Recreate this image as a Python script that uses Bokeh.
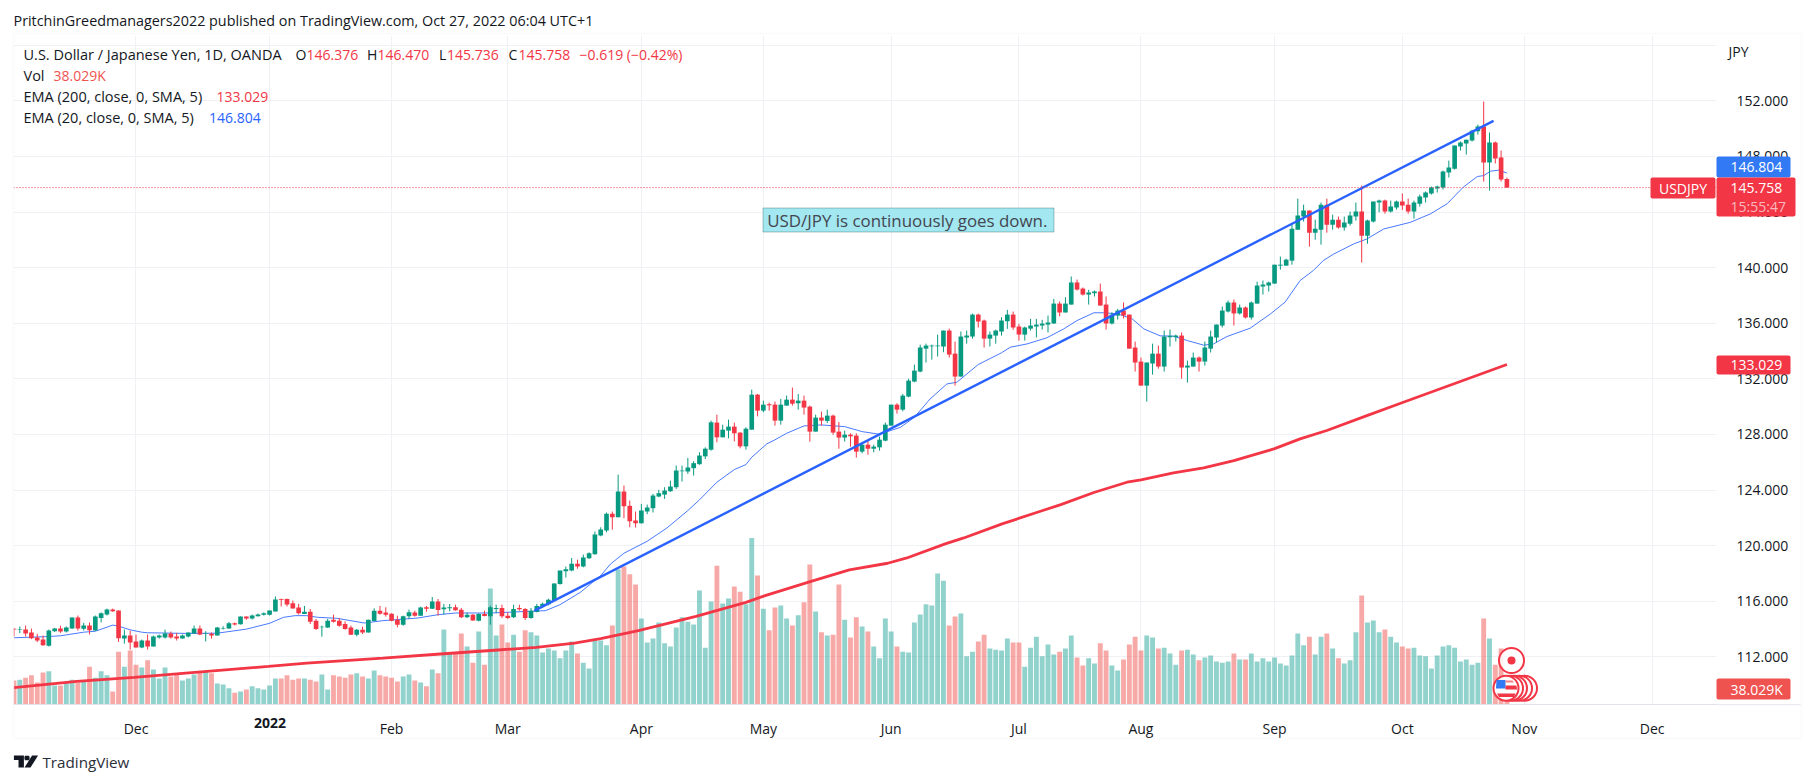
from bokeh.plotting import figure
from bokeh.embed import file_html
from bokeh.resources import INLINE
from bokeh.layouts import GridBox
from bokeh.models import (ColumnDataSource, Range1d, FixedTicker, NumeralTickFormatter, Label,
                          BoxAnnotation, PolyAnnotation, Span)

# ---------- data ----------
opens = [114.01,113.92,113.97,113.75,113.39,113.24,112.79,113.84,114.03,113.82,
114.03,114.83,114.01,114.25,113.89,114.80,115.04,115.40,115.33,113.31,
113.53,113.10,112.67,113.17,112.74,113.39,113.39,113.67,113.46,113.31,
113.46,113.67,114.03,113.65,113.65,113.53,114.01,114.03,114.42,114.35,
114.90,114.75,114.92,115.02,115.02,115.26,116.15,116.15,115.86,115.55,
115.08,115.25,114.60,114.12,114.10,114.67,114.60,114.36,114.10,113.59,
113.95,113.74,114.58,115.32,115.18,115.10,114.67,114.31,114.91,115.18,
114.96,115.56,115.46,115.97,115.42,115.49,115.56,115.39,114.84,115.03,
114.60,115.08,114.91,115.44,115.51,114.96,114.84,115.51,115.44,114.79,
115.22,115.63,115.78,116.06,117.24,118.15,118.20,118.70,118.49,119.09,
119.38,120.72,121.08,122.30,122.04,123.89,122.86,121.80,121.61,122.45,
122.69,123.53,123.67,123.91,124.20,125.35,125.33,125.57,125.86,126.42,
126.90,128.85,127.79,128.27,128.56,128.13,127.14,128.34,130.86,129.71,
130.17,130.14,128.99,130.07,130.50,130.24,130.43,130.00,128.20,129.21,
128.97,129.35,128.20,127.77,127.98,127.91,126.76,127.26,126.97,127.07,
127.55,128.63,130.14,129.78,130.72,131.80,132.52,134.17,134.34,134.34,
134.32,135.47,133.81,132.16,134.97,135.04,136.62,136.19,134.89,135.11,
135.40,136.14,136.62,135.76,135.18,135.61,135.76,135.83,135.90,135.98,
137.41,136.77,137.34,138.93,138.49,138.06,138.16,138.28,137.34,135.98,
136.55,136.91,136.62,134.25,133.24,131.51,133.10,133.81,132.88,134.99,
134.99,135.11,132.81,132.88,133.53,133.24,134.17,134.97,135.83,136.84,
137.49,136.70,137.13,136.41,137.41,138.64,138.71,138.85,140.14,140.14,
140.50,142.73,143.67,144.10,142.51,142.73,144.53,143.09,143.45,142.88,
143.16,143.67,144.03,142.30,143.31,144.68,144.82,144.03,144.32,144.75,
144.53,144.03,144.60,145.04,145.33,145.69,145.76,146.84,147.12,148.71,
148.92,149.14,149.81,150.15,147.56,149.00,147.92,146.376]

highs = [114.06,114.18,114.25,114.03,113.65,113.53,113.96,114.08,114.23,114.18,
114.83,114.97,114.44,114.47,114.97,115.19,115.47,115.47,115.33,113.96,
113.89,113.60,113.24,113.60,113.53,113.60,113.96,113.82,113.72,113.60,
113.75,114.25,114.25,113.84,113.75,114.15,114.20,114.51,114.47,114.90,
114.90,115.04,115.11,115.19,115.33,116.34,116.19,116.19,116.05,115.81,
115.66,115.44,114.72,114.24,114.72,115.03,114.79,114.55,114.24,114.00,
114.17,114.67,115.49,115.66,115.56,115.13,114.96,114.96,115.39,115.32,
115.61,115.66,116.30,116.16,115.80,115.80,115.75,115.51,115.20,115.08,
115.13,115.32,115.68,115.75,115.75,115.20,115.75,115.75,115.51,115.51,
115.80,115.90,116.18,117.29,118.20,118.49,119.11,118.99,119.35,119.52,
121.01,121.32,122.38,122.45,125.11,124.32,123.24,122.45,123.00,122.95,
123.72,124.01,124.20,124.68,125.76,125.76,126.31,126.07,126.72,127.07,
128.99,129.42,128.70,129.06,128.85,128.15,128.51,131.22,130.91,130.43,
130.29,130.36,130.55,130.79,131.37,130.91,130.79,130.07,129.42,129.64,
129.78,129.42,128.89,128.27,128.08,128.08,127.43,127.55,127.26,127.84,
128.85,130.14,130.24,130.91,132.01,133.02,134.46,134.53,134.46,135.18,
135.47,135.61,134.68,135.40,135.47,136.69,136.69,136.26,135.40,135.54,
136.43,136.96,136.84,135.95,135.76,136.31,136.31,136.24,136.55,137.75,
137.56,137.87,139.36,139.14,138.57,138.40,138.35,138.85,137.92,136.79,
137.03,137.49,136.62,134.68,133.53,133.17,134.53,134.39,135.47,135.54,
135.18,135.33,133.31,133.89,133.60,134.68,135.47,135.90,137.20,137.63,
137.70,137.34,137.20,137.56,138.99,139.07,138.99,140.21,140.79,140.64,
143.14,144.96,144.53,144.10,143.45,144.68,144.96,143.81,143.67,143.67,
144.03,144.68,145.90,143.45,144.75,144.89,144.89,144.82,144.82,145.33,
144.96,144.82,145.25,145.47,145.83,145.90,146.98,147.70,148.78,149.07,
149.21,149.91,150.29,151.95,149.72,149.07,148.42,146.470]

lows = [113.46,113.70,113.46,113.27,113.05,112.79,112.74,113.79,113.72,113.75,
114.01,113.89,113.89,113.60,113.87,114.47,114.97,115.23,113.07,112.95,
112.52,112.67,112.62,112.52,112.74,113.31,113.31,113.31,113.17,113.31,
113.39,113.65,113.55,113.10,113.31,113.53,113.96,114.01,114.25,114.32,
114.66,114.68,114.90,114.97,114.97,115.26,115.62,115.62,115.47,115.04,
115.08,114.36,113.93,113.45,114.07,114.46,114.17,113.95,113.57,113.47,
113.64,113.74,114.55,115.03,114.89,114.55,114.12,114.24,114.72,114.89,
114.96,115.25,115.44,114.96,115.03,115.27,115.32,114.79,114.79,114.60,
114.55,114.91,114.31,115.13,114.79,114.72,114.79,115.32,114.65,114.74,
115.20,115.56,115.70,116.04,117.19,117.70,118.15,118.34,118.44,119.04,
119.35,120.67,120.96,121.15,122.04,121.97,121.32,121.30,121.58,122.26,
122.38,123.48,123.36,123.86,124.08,124.61,125.16,125.04,125.81,126.23,
126.83,127.43,127.79,127.72,127.50,127.00,126.90,128.34,129.30,129.59,
129.71,128.63,128.70,130.07,130.07,129.78,129.42,127.48,128.20,128.63,
128.82,127.98,126.97,127.48,127.12,126.33,126.64,126.54,126.71,126.83,
127.50,128.63,129.49,129.66,130.67,131.75,132.47,133.17,133.38,133.60,
133.91,133.53,131.51,132.16,134.53,134.89,135.69,134.25,134.32,134.53,
135.11,135.59,135.52,134.75,134.75,135.47,134.97,135.54,135.33,135.95,
136.50,136.77,137.34,138.35,137.99,137.34,137.92,137.27,135.54,135.90,
136.26,136.34,134.17,132.52,131.51,130.36,132.30,132.73,132.52,134.32,
134.68,132.01,131.73,132.88,132.52,132.95,133.89,134.61,135.69,136.77,
135.83,136.62,136.34,136.26,137.41,138.06,138.28,138.85,139.85,140.14,
140.21,142.73,143.31,141.51,142.01,141.65,142.51,142.73,142.80,142.66,
143.02,143.38,140.36,141.72,143.24,143.98,143.88,143.96,144.17,144.15,
143.88,143.52,144.39,144.68,145.25,145.40,145.61,146.48,147.05,148.42,
148.13,149.07,149.57,146.19,145.54,147.49,146.19,145.736]

closes = [113.97,113.97,113.67,113.34,113.17,112.83,113.89,114.03,113.82,114.11,
114.83,114.03,114.25,113.91,114.90,115.14,115.40,115.28,113.34,113.53,
113.03,112.67,113.17,112.74,113.46,113.53,113.67,113.39,113.31,113.53,
113.75,114.03,113.60,113.70,113.53,114.11,114.06,114.42,114.32,114.90,
114.75,114.97,115.04,115.14,115.33,116.12,116.10,115.76,115.47,115.14,
115.25,114.53,114.00,114.17,114.60,114.53,114.24,114.00,113.59,113.95,
113.74,114.67,115.32,115.10,115.03,114.60,114.31,114.91,115.20,114.96,
115.54,115.46,115.97,115.37,115.54,115.56,115.34,114.84,115.03,114.62,
115.08,114.94,115.56,115.51,114.91,114.79,115.44,115.42,114.79,115.32,
115.66,115.82,116.11,117.27,118.20,118.30,118.70,118.49,119.14,119.45,
120.79,121.15,122.30,122.04,123.89,122.83,121.75,121.61,122.52,122.74,
123.60,123.77,123.96,124.25,125.40,125.40,125.62,125.93,126.48,126.97,
128.87,127.79,128.34,128.56,128.08,127.14,128.41,130.86,129.71,130.14,
130.09,128.99,130.14,130.50,130.21,130.43,129.93,128.20,129.21,128.99,
129.35,128.13,127.77,127.98,127.86,126.76,127.26,126.97,127.12,127.62,
128.70,130.14,129.78,130.79,131.87,132.59,134.25,134.39,134.39,134.39,
135.47,133.74,132.16,135.04,135.11,136.62,136.12,134.89,135.18,135.47,
136.19,136.62,135.69,135.18,135.69,135.83,135.90,135.97,136.05,137.41,
136.77,137.41,138.93,138.42,138.06,138.21,138.28,137.27,135.98,136.62,
136.91,136.55,134.17,133.17,131.51,133.17,133.81,132.88,135.04,135.09,
135.11,132.81,132.95,133.53,133.24,134.25,135.04,135.90,136.91,137.49,
136.70,137.13,136.41,137.49,138.71,138.78,138.93,140.21,140.21,140.57,
142.80,143.74,144.10,142.51,142.80,144.53,143.09,143.45,142.88,143.24,
143.74,144.03,142.30,143.38,144.75,144.82,144.03,144.39,144.75,144.46,
144.03,144.68,145.11,145.40,145.76,145.83,146.91,147.20,148.78,149.00,
149.19,149.84,150.15,147.56,149.00,147.84,146.33,145.758]

volume_k = [61,63,68,74,56,81,84,48,48,56,
63,56,58,96,68,84,74,33,134,96,
137,101,94,112,89,66,94,71,76,61,
66,76,81,84,79,53,51,41,30,33,
38,46,41,38,48,66,66,74,63,66,
66,63,58,76,38,74,71,68,76,79,
71,66,86,74,71,68,58,71,76,61,
56,46,89,79,190,129,129,180,147,106,
185,101,294,175,203,157,177,134,188,183,
175,132,142,137,117,137,160,129,106,91,
162,162,150,200,342,350,330,304,218,157,
167,208,155,147,195,221,210,203,289,144,
261,352,256,269,299,286,254,422,327,243,
188,246,251,218,200,226,259,355,236,183,
175,177,304,215,170,221,198,185,147,117,
218,185,147,134,132,208,228,254,251,332,
314,200,223,231,122,134,160,177,142,139,
137,167,157,157,96,144,172,122,152,127,
134,142,175,119,99,117,104,155,137,99,
86,114,152,172,137,175,170,142,144,129,
101,137,139,127,112,119,124,109,106,109,
129,114,114,129,109,117,109,119,104,99,
124,180,150,172,127,172,180,142,117,104,
112,183,276,208,213,183,190,172,157,147,
142,144,124,122,91,124,147,150,144,109,
114,101,106,218,167,101,142,38.029]

volume_up = ("RGRRRRGGRG" "GRGRGGGRRG" "RRGRGGGRRG" "GGRGRGGGRG" "RGGGGGRRRR"
             "GRRGGRRRRG" "RGGRRRRGGR" "GRGRGGRRGR" "GRGGRRGRRG" "GGGGGGGRGG"
             "GGGRGRRRGG" "GGGGGGGGGG" "GRGGRRGGRG" "RRGGRGRRGR" "GRRGRRGRGG"
             "GGRGGGGGGG" "GRRGGGRRGG" "GGRRGGGGGG" "RGGRRGGRRG" "GRRRRGGRGG"
             "GRGGRGGGGG" "RGRGGGGGGG" "GGGRGGRGRG" "GGRGGGRGGR" "RGGGGGGGGG" "GGGRGRRR")

ema20_bar = [0,5,8,12,14,16,17,18,20,22,23,30,35,40,44,46.4,48.4,50.4,52.3,55.6,60.3,63.5,69.5,73,76,82,
             91.5,94,97.5,101,102.7,105,109,112.4,116,118,121,124,126,127,129.6,131,133,136,139,143,146,149,
             152.6,155,157.7,160.6,162.3,166,170,171.5,174.4,177.8,180.7,183,185.9,187.6,190,192.5,194.5,
             197.3,199.6,202,204.8,206.5,208.8,212.8,216.3,218.8,221.4,223.7,225.4,227.2,230.6,232.9,235.8,
             240.4,243.8,246.7,249.5,251.9,253,254.2,255.6,257]
ema20_val = [113.37,113.44,113.51,113.77,113.84,114.13,114.28,114.21,113.94,113.77,113.73,113.68,113.70,113.99,
             114.41,114.84,114.96,114.96,114.84,114.77,114.43,114.60,114.79,115.03,115.15,115.15,
             115.32,115.75,116.64,117.84,118.68,119.45,120.31,121.27,122.52,123.29,124.56,125.47,125.83,126.36,
             127.32,127.61,128.08,128.61,128.68,128.56,128.20,128.01,128.51,129.23,130.55,131.63,131.75,133.03,
             133.87,134.27,134.51,134.95,135.59,136.19,136.75,136.75,136.67,136.31,135.59,135.09,135.07,134.75,
             134.42,134.51,135.04,135.64,136.67,137.51,139.07,139.80,140.51,140.98,141.70,142.06,142.78,
             143.26,143.86,144.59,145.79,146.55,146.62,146.94,147.01,146.804]

ema200_bar = [0,10.8,20.7,30.6,43.8,50.4,63.5,73.4,83.3,89.9,96.5,101,107.5,117.4,126,129.3,137.2,143.8,150.4,153.7,
              160.3,163.5,170.1,176.7,180.2,185.9,191.6,194,199.6,204.8,210,216.9,221.4,226,232.9,238.7,257]
ema200_val = [109.79,110.23,110.52,110.86,111.31,111.55,111.91,112.20,112.49,112.68,112.99,113.30,113.88,114.91,
              115.92,116.40,117.43,118.25,118.73,119.11,120.12,120.55,121.56,122.47,122.95,123.82,124.56,124.73,
              125.23,125.59,126.12,126.96,127.68,128.28,129.35,130.24,133.029]

trend_bar = [89.6, 254.7]
trend_val = [115.32, 150.56]

price_ticks = [112,116,120,124,128,132,136,140,144,148,152]
grid_ticks = price_ticks + [156]
time_ticks = [21,44,65,85,108,129,151,173,194,217,239,260,282]
time_labels = ["Dec","","Feb","Mar","Apr","May","Jun","Jul","Aug","Sep","Oct","Nov","Dec"]

# ---------- layout ----------
FONT = "Open Sans"
INK = "#131722"
UP = "#089981"; DOWN = "#f23645"; BLUE = "#2962ff"; PRICE_BLUE = "#3179f5"
FL, FR, FT, FB = 13, 1716, 35, 704
W, H = 1806, 775
def dx(X): return (X - 13.5) / 5.809
def dy(Y): return 152 - (Y - 100.3) / 13.9

p = figure(width=W, height=H, output_backend="svg", toolbar_location=None,
           x_range=Range1d(dx(FL), dx(FR)), y_range=Range1d(dy(FB), dy(FT)),
           y_axis_location="right", min_border_left=FL, min_border_right=W-FR,
           min_border_top=FT, min_border_bottom=H-FB, background_fill_color="white",
           border_fill_color="white", outline_line_color=None, frame_align=False)
p.extra_y_ranges = {"vol": Range1d(0, (FB-FT)*2.535)}

p.xgrid.ticker = FixedTicker(ticks=time_ticks)
p.ygrid.ticker = FixedTicker(ticks=grid_ticks)
for g in (p.xgrid, p.ygrid):
    g.grid_line_color = "#f0f1f5"; g.grid_line_width = 1

ax = p.xaxis[0]
ax.ticker = FixedTicker(ticks=time_ticks)
ax.major_label_overrides = {t: l for t, l in zip(time_ticks, time_labels)}
ax.major_label_text_font = FONT; ax.major_label_text_font_size = "14px"; ax.major_label_text_color = INK
ax.major_label_standoff = 8; ax.major_tick_line_color = None; ax.minor_tick_line_color = None
ax.axis_line_color = "#e0e3eb"

ay = p.yaxis[0]
ay.ticker = FixedTicker(ticks=price_ticks)
ay.formatter = NumeralTickFormatter(format="0.000")
ay.major_label_text_font = FONT; ay.major_label_text_font_size = "14px"; ay.major_label_text_color = INK
ay.major_label_standoff = 14; ay.major_tick_line_color = None; ay.minor_tick_line_color = None
ay.axis_line_color = None

bars = list(range(len(closes)))
src = ColumnDataSource(dict(
    x=bars, o=opens, h=highs, l=lows, c=closes, v=volume_k,
    top=[max(a, b) for a, b in zip(opens, closes)],
    bot=[min(a, b) for a, b in zip(opens, closes)],
    col=[UP if c >= o else DOWN for o, c in zip(opens, closes)],
    vcol=["#26a69a" if f == "G" else "#ef5350" for f in volume_up]))

p.vbar(x="x", bottom=0, top="v", width=0.84, source=src, y_range_name="vol",
       fill_color="vcol", fill_alpha=0.5, line_color=None)
p.line(ema200_bar, ema200_val, line_color=DOWN, line_width=2.8)
p.line(ema20_bar, ema20_val, line_color=BLUE, line_width=1, line_alpha=0.85)
p.segment(x0="x", x1="x", y0="l", y1="h", source=src, line_color="col", line_width=1)
p.vbar(x="x", bottom="bot", top="top", width=0.8, source=src, fill_color="col", line_color=None)
p.line(trend_bar, trend_val, line_color=BLUE, line_width=2.4)

p.add_layout(Span(location=closes[-1], dimension="width", line_color=DOWN, line_width=1, line_dash="1 2"))

# transparent overlay figure: its frame is the whole page, so nothing on it is clipped
o = figure(width=W, height=H, output_backend="svg", toolbar_location=None,
           x_range=Range1d(0, W), y_range=Range1d(H, 0), x_axis_location=None, y_axis_location=None,
           min_border=0, min_border_left=0, min_border_right=0, min_border_top=0, min_border_bottom=0,
           background_fill_alpha=0, border_fill_alpha=0, outline_line_color=None, frame_align=False)
o.grid.visible = False

def box(x0, x1, y0, y1, fill, line=None, lw=1, radius=0):
    o.add_layout(BoxAnnotation(left=x0, right=x1, top=y0, bottom=y1,
                 left_units="canvas", right_units="canvas", top_units="canvas", bottom_units="canvas",
                 fill_color=fill if fill else "white", fill_alpha=1 if fill else 0, line_color=line, line_width=lw,
                 border_radius=radius, editable=False))
def lab(X, Y, s, color=INK, size=14, align="left", style="normal"):
    o.add_layout(Label(x=X, y=Y, x_units="canvas", y_units="canvas", text=s, text_color=color, text_font=FONT,
                       text_font_size=f"{size}px", text_align=align, text_baseline="middle",
                       text_font_style=style))
def poly(pts, color):
    o.add_layout(PolyAnnotation(xs=[a for a, _ in pts], ys=[b for _, b in pts], xs_units="canvas", ys_units="canvas",
                                fill_color=color, fill_alpha=1, line_color=None, editable=False))

# outer frame
box(13, 1801, 33, 738, None, "#f0f3fa", 2)
box(1716, 1800, 704, 704.5, "#e0e3eb", "#e0e3eb", 1)

# title and footer
lab(13, 20, "PritchinGreedmanagers2022 published on TradingView.com, Oct 27, 2022 06:04 UTC+1", INK, 14.35)
lab(42, 761, "TradingView", "#2a2e39", 15.2)
poly([(13.4,755),(23.4,755),(23.4,767),(18,767),(18,759.6),(13.4,759.6)], INK)
poly([(24.4,755.2),(28.6,755.2),(29.2,757.5),(28.6,759.8),(24.4,759.8),(23.8,757.5)], INK)
poly([(31.6,755),(37.6,755),(30,767),(24,767)], INK)

# legend
lab(23, 54, "U.S. Dollar / Japanese Yen, 1D, OANDA", INK, 14.5)
for X, s, c in [(295,"O",INK),(306,"146.376",DOWN),(366.6,"H",INK),(377,"146.470",DOWN),(438.6,"L",INK),
                (446.6,"145.736",DOWN),(508,"C",INK),(518,"145.758",DOWN),(579,"\u22120.619 (\u22120.42%)",DOWN)]:
    lab(X, 54, s, c)
lab(23, 75, "Vol", INK, 14.5); lab(53, 75, "38.029K", "#ef5350")
lab(23, 96, "EMA (200, close, 0, SMA, 5)", INK, 14.5); lab(216, 96, "133.029", DOWN)
lab(23, 117, "EMA (20, close, 0, SMA, 5)", INK, 14.5); lab(208.6, 117, "146.804", BLUE)

# note
box(762.5, 1053.5, 207.5, 231.5, "#a3e7f0", "#0b3b3d", 1)
lab(766.7, 219.5, "USD/JPY is continuously goes down.", "#434651", 16.9)

# bold year tick
lab(269.4, 722, "2022", INK, 14, "center", "bold")

# price scale
lab(1728, 51, "JPY")
box(1716, 1790, 156, 177, PRICE_BLUE, None, 0, 2)
lab(1730, 166.5, "146.804", "white")
box(1716, 1795, 177, 216, DOWN, None, 0, 2)
lab(1730, 187.7, "145.758", "white")
lab(1730, 206, "15:55:47", "#fbb9bf")
box(1650, 1715, 177, 198, DOWN, None, 0, 2)
lab(1682.5, 187.7, "USDJPY", "white", 14, "center")
box(1716, 1790, 355, 374, DOWN, None, 0, 2)
lab(1730, 364.5, "133.029", "white")
box(1716, 1790, 678, 699, "#ef5350", None, 0, 2)
lab(1730, 689, "38.029K", "white")

# event marks
for X in (1524, 1519, 1514, 1510):
    o.scatter([X], [687.7], size=25, fill_color="white", fill_alpha=0.9, line_color=DOWN, line_width=2)
o.scatter([1511], [660], size=25, fill_color="white", fill_alpha=0.85, line_color=DOWN, line_width=2)
o.scatter([1511], [660], size=8, fill_color=DOWN, line_color=None)
o.scatter([1505.5], [687.7], size=25, fill_color="white", line_color=DOWN, line_width=2)
poly([(1496,679.5),(1505,679.5),(1505,688),(1495.5,688)], "#3179f5")
poly([(1505,680),(1512,680),(1513.5,682),(1505,682)], "#f77c80")
poly([(1505,685),(1516,685),(1516.5,689),(1505,689)], "#f23645")
poly([(1496.5,693),(1515,693),(1513.5,696.5),(1498.5,696.5)], "#f23645")

page = GridBox(children=[(p, 0, 0), (o, 0, 0)], spacing=0)
open("out.html", "w").write(file_html(page, INLINE))
